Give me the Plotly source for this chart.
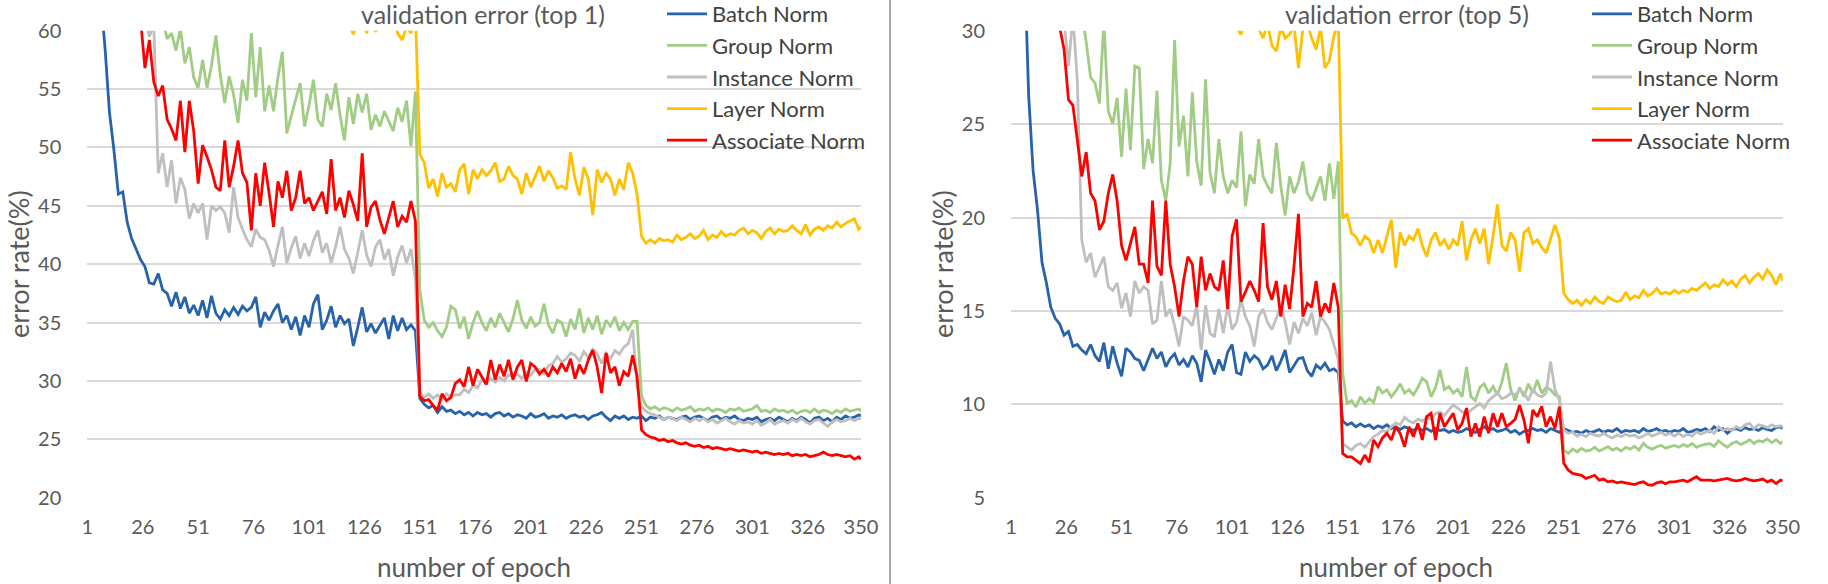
import plotly.graph_objects as go

EPOCHS = list(range(1, 350, 2)) + [350]
TICKS_X = [1, 26, 51, 76, 101, 126, 151, 176, 201, 226, 251, 276, 301, 326, 350]
NAMES = ["Batch Norm", "Group Norm", "Instance Norm", "Layer Norm", "Associate Norm"]
COLORS = ["#2763AA", "#A0CC84", "#BFBFBF", "#FFC000", "#FF0000"]

# ---------- top-1 validation error (left) ----------
BN1 = [90, 80, 71, 63, 58.5, 53, 49.8, 46, 46.2, 43.6, 42.2, 41.3, 40.4, 39.8, 38.4, 38.3, 39.2, 37.8, 37.5, 36.4, 37.6, 36.2, 37.2, 35.8, 36.5,
       35.6, 36.9, 35.4, 37.3, 35.8, 35.3, 36.1, 35.6, 36.3, 35.7, 36.4, 36.0, 36.3, 37.2, 34.6, 35.9, 35.2, 36.0, 36.6, 35.0, 35.6, 34.4, 35.5, 33.9, 35.6,
       34.6, 36.6, 37.4, 34.4, 35.2, 36.4, 34.6, 35.6, 34.9, 35.3, 33.0, 34.6, 36.3, 34.2, 34.9, 34.1, 34.8, 35.4, 33.6, 35.6, 34.3, 35.4, 34.4, 34.8, 34.3,
       28.5, 28.0, 27.7, 27.9, 27.3, 27.8, 27.4, 27.5, 27.2, 27.4, 27.1, 27.3, 27.0, 27.3, 27.1, 27.2, 26.9, 27.2, 27.3, 27.0, 27.2, 26.9, 27.1, 27.0, 26.8,
       27.2, 26.9, 27.0, 27.2, 26.8, 27.0, 26.9, 27.1, 26.8, 27.0, 27.1, 26.9, 27.0, 26.7, 27.0, 27.1, 27.3, 26.9, 26.6, 27.0, 26.8, 27.0, 26.7, 26.9, 26.8,
       27.0, 26.6, 26.9, 26.8, 27.0, 26.7, 26.9, 26.8, 26.7, 26.9, 27.0, 26.7, 26.9, 27.0, 26.8, 26.6, 26.9, 27.0, 26.7, 26.9, 26.8, 27.0, 26.7, 26.6, 26.8,
       26.7, 26.9, 26.5, 26.7, 26.8, 26.6, 26.9, 26.7, 26.5, 26.8, 26.6, 26.9, 26.7, 26.4, 26.8, 26.9, 26.6, 26.8, 26.5, 26.9, 26.7, 27.0, 26.8, 26.9, 27.1,
       27.0]
GN1 = [88, 84, 80, 77, 75, 73, 71, 70, 69, 68, 67, 66, 65, 64.5, 63.5, 63, 62, 61, 59.3, 59.8, 58.3, 60.2, 57.2, 58.6, 56.0,
       55.1, 57.5, 55.1, 57.0, 59.6, 56.2, 53.8, 56.1, 54.5, 52.1, 55.8, 54.0, 59.8, 54.3, 58.6, 53.1, 55.3, 53.1, 56.0, 58.2, 51.2, 52.7, 54.0, 55.5, 51.8,
       53.6, 55.8, 52.4, 51.8, 54.6, 53.2, 55.5, 52.8, 50.6, 54.3, 52.0, 54.6, 53.0, 54.6, 51.5, 52.8, 51.8, 53.1, 52.2, 51.4, 53.4, 52.2, 54.0, 50.1, 54.8,
       37.8, 35.2, 34.6, 35.0, 34.3, 33.8, 34.6, 36.4, 36.1, 34.5, 35.5, 33.6, 35.0, 36.0, 35.0, 34.3, 35.4, 34.6, 35.8, 35.0, 34.2, 35.3, 36.9, 35.2, 34.5,
       35.5, 34.7, 35.0, 36.6, 34.8, 34.1, 35.2, 35.0, 33.8, 35.3, 34.4, 36.2, 34.1, 35.4, 34.4, 35.6, 34.0, 35.2, 34.7, 35.5, 34.3, 35.0, 34.4, 35.1, 35.1,
       28.7, 27.9, 27.6, 27.8, 27.5, 27.7, 27.6, 27.4, 27.7, 27.5, 27.6, 27.8, 27.4, 27.6, 27.5, 27.7, 27.4, 27.6, 27.5, 27.3, 27.6, 27.5, 27.7, 27.4, 27.5,
       27.6, 27.9, 27.4, 27.5, 27.3, 27.6, 27.4, 27.5, 27.3, 27.5, 27.2, 27.4, 27.5, 27.3, 27.6, 27.3, 27.5, 27.4, 27.2, 27.5, 27.3, 27.6, 27.4, 27.5, 27.6,
       27.4]
IN1 = [95, 90, 86, 82, 79, 76, 74, 72, 70, 68, 66, 64, 62.5, 61, 59.5, 60.5, 47.8, 49.5, 46.6, 48.9, 45.2, 47.4, 46.4, 43.9, 45.2,
       44.4, 45.2, 42.1, 45.0, 44.6, 44.9, 44.4, 42.7, 46.6, 44.0, 43.0, 42.1, 41.5, 43.0, 42.3, 42.1, 41.2, 39.8, 41.6, 43.2, 40.1, 41.4, 42.4, 40.5, 41.8,
       40.7, 42.0, 42.9, 41.0, 41.8, 40.1, 41.5, 43.2, 41.3, 40.5, 39.2, 41.0, 42.9, 40.8, 39.8, 41.5, 42.1, 40.4, 41.3, 39.0, 40.6, 41.6, 40.1, 41.3, 38.7,
       29.0, 28.6, 28.9, 28.5, 28.8, 28.4, 28.9, 28.6, 28.8, 28.8, 29.3, 29.0, 29.6, 29.4, 30.1, 29.8, 30.2, 29.9, 30.3, 30.0, 30.5, 30.4, 30.6, 30.2, 30.7,
       30.5, 31.0, 31.0, 30.6, 31.3, 31.5, 32.1, 31.6, 31.9, 32.4, 32.2, 31.7, 32.5, 32.0, 32.7, 32.3, 31.5, 32.4, 31.9, 32.6, 32.3, 32.9, 33.2, 34.4, 29.5,
       27.8, 27.4, 27.2, 27.1, 26.9, 26.7, 26.9, 26.8, 26.6, 26.9, 26.7, 26.5, 26.8, 26.6, 26.8, 26.5, 26.7, 26.4, 26.6, 26.8, 26.5, 26.3, 26.6, 26.4, 26.5,
       26.3, 26.6, 26.2, 26.4, 26.7, 26.3, 26.5, 26.6, 26.4, 26.7, 26.5, 26.8, 26.5, 26.3, 26.6, 26.7, 26.4, 26.1, 26.5, 26.7, 26.5, 26.6, 26.8, 26.6, 26.8,
       26.7]
LN1 = [95, 90, 86, 83, 80, 78, 76, 74, 73, 72, 71, 70, 69.5, 69, 68.5, 68, 67.5, 67, 66.5, 66.8, 66, 65.6, 66.2, 65.3, 65.8,
       65, 64.6, 65.2, 64.4, 64.9, 64.1, 64.5, 63.8, 64.3, 63.6, 64, 63.4, 63.9, 63.2, 63.7, 63, 63.5, 62.8, 63.3, 62.6, 63.1, 62.4, 62.9, 62.2, 62.7,
       62.0, 62.5, 61.8, 62.3, 61.6, 62.0, 61.4, 61.9, 61.2, 60.6, 59.7, 61.0, 60.8, 59.8, 61.2, 59.9, 60.8, 61.3, 60.5, 61.0, 59.8, 59.2, 60.3, 59.8, 61.5,
       49.4, 48.7, 46.5, 47.3, 45.8, 47.8, 46.6, 46.9, 46.2, 48.1, 48.6, 46.0, 48.1, 47.3, 48.1, 47.6, 48.0, 48.7, 47.1, 47.3, 48.4, 47.6, 47.3, 46.0, 47.8,
       46.6, 47.5, 48.4, 47.1, 48.0, 47.4, 46.5, 46.7, 46.4, 49.6, 47.3, 45.9, 48.3, 47.3, 44.2, 48.1, 47.0, 47.8, 47.3, 45.9, 47.3, 46.4, 48.7, 47.8, 46.0,
       42.4, 41.8, 42.1, 41.8, 42.2, 42.0, 42.1, 41.9, 42.5, 42.1, 42.3, 42.6, 42.2, 42.4, 42.9, 42.1, 42.5, 42.3, 42.8, 42.4, 42.6, 42.5, 42.9, 43.1, 42.6,
       42.9, 42.7, 42.2, 42.8, 43.1, 42.6, 43.0, 42.8, 42.9, 43.3, 42.9, 42.6, 43.4, 42.5, 43.0, 43.2, 42.9, 43.3, 43.1, 43.6, 43.2, 43.5, 43.7, 43.9, 43.0,
       43.2]
AN1 = [98, 93, 88, 84, 80, 77, 74, 71, 69, 67, 65, 63, 61, 56.8, 59.2, 55.6, 54.4, 55.3, 52.4, 51.6, 50.6, 54.0, 49.6, 54.0, 51.4,
       46.9, 50.2, 49.2, 48.1, 46.6, 46.3, 50.6, 46.6, 48.4, 50.6, 47.8, 47.0, 42.9, 47.8, 45.0, 48.7, 46.1, 43.2, 47.1, 45.7, 48.0, 44.6, 45.7, 48.0, 45.2,
       45.7, 44.6, 45.4, 46.2, 44.3, 49.0, 44.6, 45.7, 44.0, 46.3, 45.1, 43.7, 49.5, 43.2, 44.9, 45.4, 43.8, 42.6, 44.0, 45.4, 43.2, 44.1, 43.6, 45.4, 43.7,
       28.7, 28.3, 28.4, 27.9, 27.5, 28.9, 28.3, 28.6, 29.8, 30.1, 29.5, 31.2, 29.6, 31.0, 30.4, 29.7, 31.8, 30.1, 31.4, 30.4, 31.8, 30.1, 31.2, 31.8, 29.95,
       31.5, 31.2, 30.6, 31.0, 30.4, 31.2, 30.7, 31.5, 30.8, 31.9, 30.2, 31.4, 30.6, 31.8, 32.65, 31.2, 28.96, 32.4, 30.7, 31.2, 29.6, 30.8, 30.4, 32.2, 30.4,
       25.8, 25.4, 25.2, 25.1, 24.9, 25.0, 24.8, 24.9, 24.7, 24.6, 24.7, 24.5, 24.4, 24.5, 24.3, 24.4, 24.2, 24.3, 24.2, 24.1, 24.2, 24.1, 24.0, 24.1, 24.0,
       23.9, 24.0, 23.8, 23.9, 23.8, 23.7, 23.8, 23.7, 23.8, 23.6, 23.7, 23.6, 23.7, 23.5, 23.6, 23.7, 23.9, 23.7, 23.6, 23.7, 23.6, 23.5, 23.6, 23.3, 23.5,
       23.3]

# ---------- top-5 validation error (right) ----------
BN5 = [60, 50, 42, 34, 26.5, 22.5, 20.4, 17.6, 16.5, 15.2, 14.6, 14.3, 13.7, 13.9, 13.1, 13.2, 12.9, 12.7, 13.2, 12.6, 12.3, 13.3, 11.9, 13.1, 12.2,
       11.5, 13.0, 12.8, 12.45, 12.35, 11.8, 12.45, 13.0, 12.45, 12.8, 12.0, 12.45, 12.7, 12.1, 12.4, 12.0, 12.6, 12.2, 11.2, 12.9, 12.3, 11.6, 12.4, 11.8, 12.8,
       13.2, 11.7, 11.6, 12.8, 12.3, 12.6, 12.4, 11.9, 12.1, 12.6, 11.8, 12.3, 12.9, 11.7, 12.1, 12.45, 12.5, 11.8, 11.5, 12.1, 11.9, 12.2, 11.8, 11.9, 11.7,
       9.1, 8.9, 9.0, 8.8, 8.95, 8.8, 8.9, 8.7, 8.85, 8.75, 8.9, 8.7, 8.8, 8.65, 8.8, 8.7, 8.6, 8.75, 8.6, 8.7, 8.55, 8.7, 8.6, 8.65, 8.5,
       8.6, 8.5, 8.55, 8.7, 8.6, 8.5, 8.65, 8.8, 8.6, 8.7, 8.55, 8.6, 8.7, 8.5, 8.6, 8.4, 8.55, 8.6, 8.7, 8.6, 8.65, 8.5, 8.7, 8.6, 8.5,
       8.7, 8.6, 8.5, 8.55, 8.45, 8.6, 8.5, 8.55, 8.65, 8.5, 8.6, 8.55, 8.7, 8.5, 8.6, 8.55, 8.6, 8.5, 8.7, 8.55, 8.6, 8.7, 8.55, 8.6, 8.5,
       8.6, 8.55, 8.7, 8.5, 8.55, 8.65, 8.6, 8.7, 8.55, 8.8, 8.6, 8.7, 8.45, 8.65, 8.7, 8.6, 8.75, 8.65, 8.7, 8.6, 8.75, 8.65, 8.6, 8.75, 8.8,
       8.7]
GN5 = [70, 65, 60, 56, 52, 49, 46, 44, 42, 40, 38.5, 37, 36, 35, 34, 33, 31, 29.4, 27.5, 27.2, 26.1, 30.5, 25.7, 25.0, 26.4,
       23.25, 26.9, 23.6, 28.1, 28.0, 22.6, 24.2, 22.9, 26.8, 22.0, 20.9, 22.9, 29.5, 23.8, 25.45, 22.2, 26.7, 23.0, 21.7, 27.4, 22.4, 21.3, 24.2, 22.2, 21.3,
       22.0, 21.6, 24.6, 20.6, 22.3, 21.8, 24.2, 22.2, 21.7, 21.3, 24.0, 21.7, 20.1, 22.2, 21.3, 21.9, 23.0, 21.3, 20.9, 21.5, 22.2, 20.9, 22.9, 21.0, 23.0,
       11.66, 10.05, 10.2, 9.86, 10.4, 10.05, 10.3, 10.1, 10.95, 10.6, 10.78, 10.4, 10.7, 11.1, 10.6, 10.78, 10.5, 10.9, 11.4, 11.2, 10.4, 10.9, 11.84, 10.78, 10.95,
       10.6, 10.8, 10.4, 12.0, 10.4, 10.2, 10.9, 11.1, 10.6, 10.95, 10.5, 11.2, 12.2, 10.78, 10.2, 10.9, 10.4, 11.1, 10.6, 11.3, 10.6, 10.9, 10.78, 10.5, 10.4,
       7.55, 7.37, 7.6, 7.45, 7.64, 7.5, 7.55, 7.7, 7.5, 7.6, 7.73, 7.55, 7.65, 7.5, 7.7, 7.6, 7.75, 7.55, 7.91, 7.7, 7.6, 7.73, 7.8, 7.65, 7.73,
       7.8, 7.7, 7.85, 7.75, 7.9, 7.7, 7.8, 7.85, 7.9, 7.75, 8.05, 7.85, 7.7, 7.9, 8.0, 7.85, 7.95, 8.1, 7.9, 8.05, 8.0, 8.15, 7.95, 8.1, 7.9,
       8.0]
IN5 = [75, 70, 65, 60, 56, 52, 48, 45, 42, 39, 36, 33, 30.5, 28.1, 30.8, 27.3, 18.8, 17.6, 18.1, 16.8, 17.4, 17.9, 16.3, 16.1, 16.5,
       15.14, 15.96, 14.7, 16.6, 15.96, 16.3, 16.1, 14.3, 14.5, 16.6, 14.7, 15.1, 14.2, 13.1, 14.7, 14.5, 14.2, 15.3, 12.9, 15.3, 13.8, 13.6, 15.1, 13.8, 15.3,
       14.0, 14.4, 15.6, 14.7, 14.2, 13.1, 14.7, 15.1, 14.4, 14.0, 14.6, 15.3, 14.4, 13.2, 14.4, 13.8, 14.6, 14.2, 14.9, 13.7, 14.7, 14.4, 14.0, 13.2, 12.4,
       7.9, 7.7, 7.55, 7.8, 7.9, 7.7, 8.0, 8.27, 8.4, 8.6, 8.5, 8.8, 9.0, 8.9, 9.3, 9.1, 9.0, 9.2, 9.1, 9.3, 9.2, 9.5, 9.6, 9.4, 9.7,
       9.96, 9.8, 9.6, 9.5, 9.7, 9.9, 10.05, 9.8, 10.2, 10.4, 10.6, 10.3, 10.4, 10.6, 10.5, 10.77, 10.6, 10.2, 10.8, 10.5, 10.4, 10.6, 12.28, 10.8, 10.2,
       8.63, 8.45, 8.5, 8.3, 8.4, 8.27, 8.45, 8.35, 8.3, 8.45, 8.3, 8.2, 8.35, 8.27, 8.4, 8.3, 8.35, 8.2, 8.3, 8.45, 8.3, 8.4, 8.5, 8.35, 8.45,
       8.3, 8.45, 8.27, 8.4, 8.3, 8.53, 8.4, 8.5, 8.6, 8.45, 8.8, 8.6, 8.7, 8.6, 8.8, 8.7, 8.9, 8.98, 8.7, 8.9, 8.85, 8.75, 8.9, 8.8, 8.85,
       8.8]
LN5 = [80, 75, 70, 66, 62, 58, 55, 52, 50, 48, 46, 44.5, 43, 42, 41, 40, 39, 38.2, 37.5, 36.8, 36.2, 35.6, 35.1, 34.6, 34.2,
       33.8, 33.5, 33.2, 33.0, 32.7, 32.5, 32.3, 32.1, 31.9, 31.8, 31.6, 31.5, 31.4, 31.3, 31.2, 31.1, 31.0, 30.9, 30.8, 30.7, 30.6, 30.6, 30.5, 30.4, 30.4,
       30.3, 30.2, 29.8, 30.6, 30.3, 30.5, 30.1, 29.6, 30.4, 29.2, 28.9, 30.2, 29.6, 29.8, 30.3, 28.0, 30.1, 30.4, 29.6, 29.0, 30.2, 28.0, 28.4, 29.7, 30.5,
       19.95, 20.2, 19.15, 18.97, 18.5, 19.0, 18.8, 18.1, 18.8, 18.1, 19.0, 19.87, 17.3, 19.2, 18.5, 19.0, 18.8, 19.4, 18.5, 17.9, 18.8, 19.2, 18.5, 18.8, 18.3,
       18.8, 18.5, 19.8, 17.7, 18.8, 19.4, 18.6, 19.4, 17.5, 19.0, 20.7, 18.5, 18.2, 19.2, 18.8, 17.1, 19.2, 19.4, 18.6, 18.8, 18.4, 18.1, 18.9, 19.6, 18.9,
       15.94, 15.6, 15.4, 15.57, 15.3, 15.6, 15.4, 15.75, 15.5, 15.4, 15.75, 15.6, 15.5, 15.57, 16.0, 15.6, 15.8, 15.7, 16.1, 15.8, 15.94, 16.2, 15.9, 16.0, 15.9,
       16.1, 15.94, 16.1, 16.0, 16.2, 16.1, 16.3, 16.5, 16.2, 16.4, 16.3, 16.66, 16.4, 16.6, 16.3, 16.7, 16.9, 16.5, 16.8, 17.0, 16.7, 17.2, 16.9, 16.4, 17.0,
       16.6]
AN5 = [85, 78, 70, 63, 56, 50, 45, 41, 38, 35, 32.5, 30.2, 29.0, 26.3, 26.0, 24.15, 22.2, 23.5, 21.3, 20.9, 19.34, 19.8, 21.3, 22.3, 20.9,
       18.5, 17.7, 18.6, 19.5, 17.5, 17.5, 16.5, 20.9, 17.4, 16.9, 20.9, 17.5, 16.3, 14.7, 16.6, 17.9, 17.5, 15.2, 17.9, 16.1, 17.0, 16.3, 16.1, 17.7, 15.1,
       19.0, 19.9, 15.5, 16.0, 16.6, 16.1, 15.5, 19.7, 16.3, 15.6, 16.6, 14.7, 16.4, 15.1, 17.4, 20.2, 14.7, 15.4, 15.2, 16.6, 14.7, 15.4, 14.9, 16.5, 15.2,
       7.37, 7.19, 7.19, 7.0, 6.83, 7.28, 6.9, 8.09, 7.73, 8.2, 8.45, 8.09, 8.8, 8.45, 7.73, 8.8, 8.27, 8.98, 8.09, 9.34, 9.52, 8.09, 9.52, 8.8, 9.16,
       9.52, 8.63, 8.98, 9.8, 8.27, 8.98, 8.27, 9.34, 8.45, 9.52, 8.8, 9.52, 8.8, 8.98, 9.2, 9.96, 9.16, 7.91, 9.7, 9.34, 9.89, 8.8, 9.34, 8.7, 9.87,
       6.84, 6.48, 6.3, 6.25, 6.2, 6.03, 6.1, 6.2, 5.94, 6.0, 5.85, 5.9, 5.8, 5.85, 5.79, 5.75, 5.7, 5.8, 5.85, 5.7, 5.67, 5.8, 5.85, 5.75, 5.85,
       5.85, 5.9, 5.94, 5.85, 6.0, 6.12, 5.94, 5.95, 5.94, 5.9, 5.94, 5.95, 6.03, 5.94, 5.9, 5.94, 6.03, 5.95, 5.9, 5.94, 6.0, 5.85, 5.94, 5.76, 5.94,
       5.9]

LEFT = [BN1, GN1, IN1, LN1, AN1]
RIGHT = [BN5, GN5, IN5, LN5, AN5]

W, H = 1828, 584
FONT = "Lato, 'Open Sans', sans-serif"
TXT = "#595959"

def px_x(p):
    return p / W

def px_y(p):
    return 1 - p / H

fig = go.Figure()
for name, color, ys in zip(NAMES, COLORS, LEFT):
    fig.add_trace(go.Scatter(x=EPOCHS, y=ys, mode="lines", name=name,
                             line=dict(color=color, width=2.8),
                             xaxis="x", yaxis="y", legend="legend"))
for name, color, ys in zip(NAMES, COLORS, RIGHT):
    fig.add_trace(go.Scatter(x=EPOCHS, y=ys, mode="lines", name=name,
                             line=dict(color=color, width=2.8),
                             xaxis="x2", yaxis="y2", legend="legend2"))

ydom = [px_y(497.7), px_y(30.7)]
xcommon = dict(range=[1, 350], tickmode="array", tickvals=TICKS_X, showgrid=False,
               zeroline=False, showline=False, ticks="outside", ticklen=11,
               tickcolor="rgba(0,0,0,0)", tickfont=dict(family=FONT, size=20, color=TXT),
               automargin=False)
ycommon = dict(showgrid=True, gridcolor="#D9D9D9", gridwidth=1.5, zeroline=False,
               showline=False, ticks="outside", ticklen=21, tickcolor="rgba(0,0,0,0)",
               tickfont=dict(family=FONT, size=20, color=TXT), domain=ydom, automargin=False)

legcommon = dict(bgcolor="rgba(0,0,0,0)", font=dict(family=FONT, size=22, color="#404040"),
                 xanchor="left", yanchor="top", tracegroupgap=0, itemwidth=40)

fig.update_layout(
    width=W, height=H, margin=dict(l=0, r=0, t=0, b=0, autoexpand=False),
    paper_bgcolor="white", plot_bgcolor="white",
    xaxis=dict(domain=[px_x(87.3), px_x(861)], anchor="y", **xcommon),
    yaxis=dict(range=[20, 60], tickvals=[20, 25, 30, 35, 40, 45, 50, 55, 60], anchor="x", **ycommon),
    xaxis2=dict(domain=[px_x(1011), px_x(1782.7)], anchor="y2", **xcommon),
    yaxis2=dict(range=[5, 30], tickvals=[5, 10, 15, 20, 25, 30], anchor="x2", **ycommon),
    legend=dict(x=px_x(662), y=px_y(-7), **legcommon),
    legend2=dict(x=px_x(1587), y=px_y(-7), **legcommon),
    showlegend=True,
)

annots = [
    ("validation error (top 1)", 483, 14, 0, 25),
    ("validation error (top 5)", 1407, 14, 0, 25),
    ("number of epoch", 474, 567, 0, 26),
    ("number of epoch", 1396, 567, 0, 26),
    ("error rate(%)", 18, 264, -90, 27),
    ("error rate(%)", 942, 264, -90, 27),
]
for text, x, y, ang, size in annots:
    fig.add_annotation(text=text, x=px_x(x), y=px_y(y), xref="paper", yref="paper",
                       xanchor="center", yanchor="middle", showarrow=False, textangle=ang,
                       font=dict(family=FONT, size=size, color=TXT))

fig.add_shape(type="line", xref="paper", yref="paper", x0=px_x(890), x1=px_x(890), y0=0, y1=1,
              line=dict(color="#8C8C8C", width=1.5))

fig.write_html("out.html")
